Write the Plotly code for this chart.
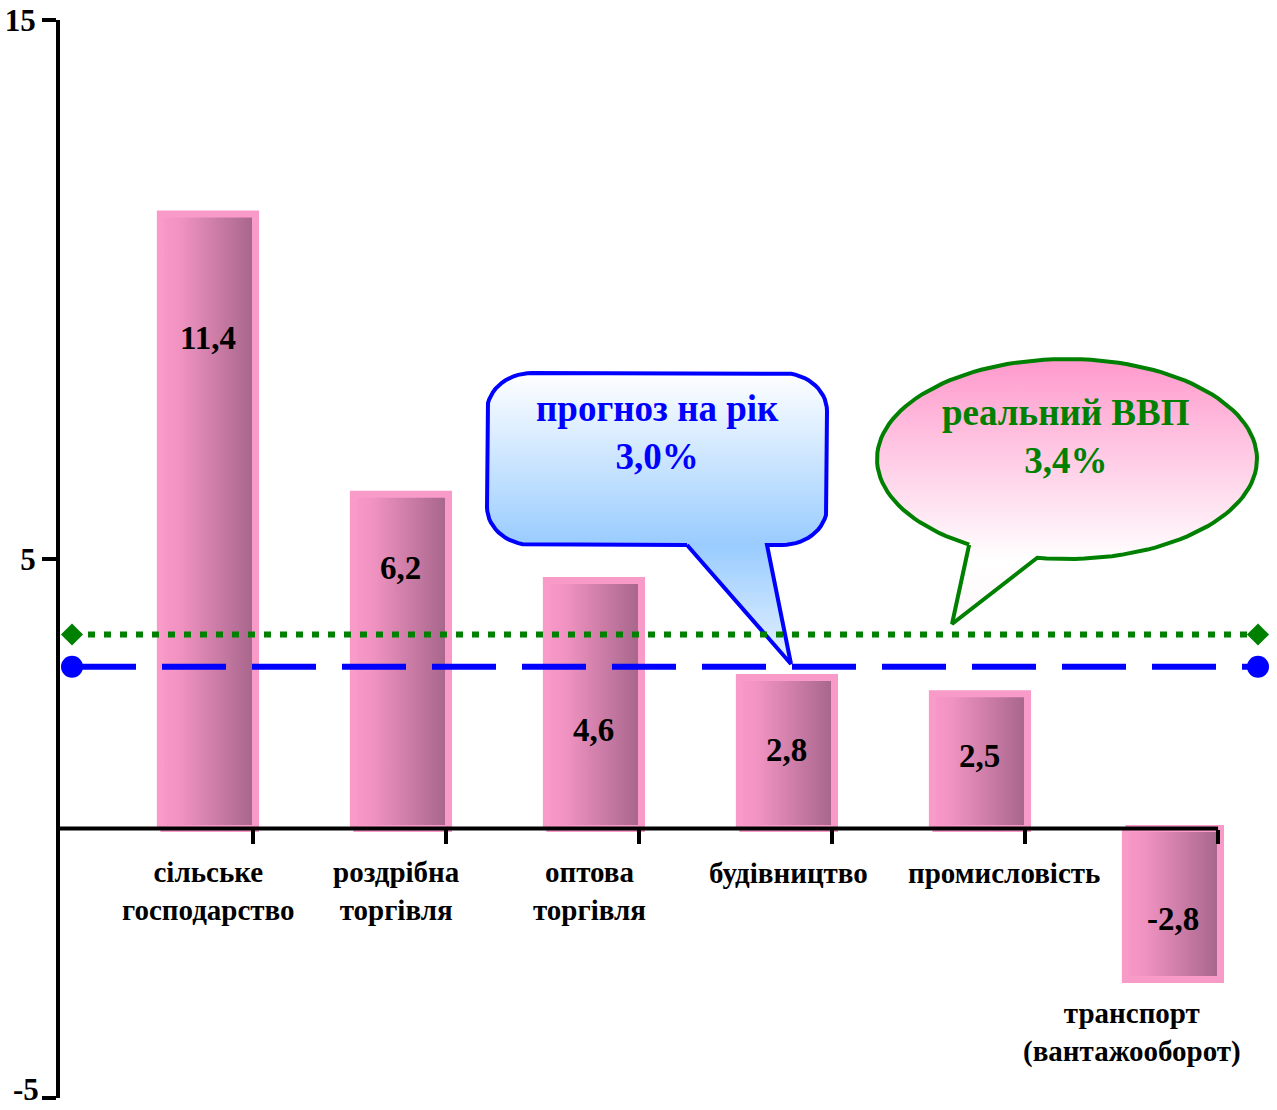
import numpy as np
import plotly.graph_objects as go

# data
categories = ["сільське<br>господарство", "роздрібна<br>торгівля", "оптова<br>торгівля",
              "будівництво", "промисловість", "транспорт<br>(вантажооборот)"]
values = [11.4, 6.2, 4.6, 2.8, 2.5, -2.8]
value_text = ["11,4", "6,2", "4,6", "2,8", "2,5", "-2,8"]
forecast = 3.0
real_gdp = 3.6          # dotted line is drawn a little above its label value
forecast_text = "прогноз на рік<br>3,0%"
real_text = "реальний ВВП<br>3,4%"
y_ticks = [-5, 5, 15]
y_tick_text = ["-5", "5", "15"]

# where the labels sit (layout only)
value_label_y = [9.1, 4.83, 1.83, 1.46, 1.35, -1.68]
cat_label_x = [0.767, 1.741, 2.741, 3.772, 4.891, 5.554]
cat_label_y = [-1.16, -1.16, -1.16, -0.83, -0.83, -3.78]

W, H = 1277, 1110
L, T, R, B = 60, 20, 11, 12
PX = 193.0
PY = (H - T - B) / 20.0

def dx(p):
    return (p - L) / PX

def dy(p):
    return 15 - (p - T) / PY

FONT = "Liberation Serif, Times New Roman, serif"
TICKFONT = dict(family=FONT, size=31, color="black", weight="bold")

fig = go.Figure()

# bars with a horizontal gradient
for i, v in enumerate(values):
    x0, x1 = i + 0.52, i + 1.013
    fig.add_trace(go.Scatter(
        x=[x0, x0, x1, x1, x0], y=[0, v, v, 0, 0], mode="lines", fill="toself",
        line=dict(color="#F99BC9", width=7),
        fillgradient=dict(type="horizontal", start=x0, stop=x1,
                          colorscale=[[0, "#F898C8"], [0.2, "#F193C2"], [1, "#A5658A"]]),
        hoverinfo="skip", showlegend=False))

# blue rounded callout
def arc(cx, cy, rx, ry, a0, a1, n=16):
    t = np.radians(np.linspace(a0, a1, n))
    return list(cx + rx * np.cos(t)), list(cy + ry * np.sin(t))

bx0, bx1, by0, by1, rx, ry = 487, 827, 373, 545, 45, 38
xs, ys = [687], [by1]
for cx, cy, a0, a1 in [(bx0 + rx, by1 - ry, 90, 180), (bx0 + rx, by0 + ry, 180, 270),
                       (bx1 - rx, by0 + ry, 270, 360), (bx1 - rx, by1 - ry, 0, 90)]:
    ax, ay = arc(cx, cy, rx, ry, a0, a1)
    xs += ax
    ys += ay
xs += [767, 791, 687]
ys += [by1, 664, by1]
fig.add_trace(go.Scatter(
    x=[dx(p) for p in xs], y=[dy(p) for p in ys], mode="lines", fill="toself",
    line=dict(color="#0000FF", width=4),
    fillgradient=dict(type="vertical", start=dy(664), stop=dy(by0),
                      colorscale=[[0, "#E6F1FF"], [0.41, "#99CCFF"], [1, "#FFFFFF"]]),
    hoverinfo="skip", showlegend=False))

# green oval callout
ex, ey = arc(1067, 459, 190, 100, 121, 459, 120)
ex += [952, ex[0]]
ey += [624, ey[0]]
fig.add_trace(go.Scatter(
    x=[dx(p) for p in ex], y=[dy(p) for p in ey], mode="lines", fill="toself",
    line=dict(color="#008000", width=4),
    fillgradient=dict(type="vertical", start=dy(624), stop=dy(359),
                      colorscale=[[0, "#FFF6FA"], [0.24, "#FFFFFF"], [1, "#FF99CC"]]),
    hoverinfo="skip", showlegend=False))

# reference lines
lx = [dx(72), dx(1258)]
fig.add_trace(go.Scatter(
    x=lx, y=[real_gdp, real_gdp], mode="lines+markers", cliponaxis=False,
    line=dict(color="#008000", width=6, dash="7px,9px"),
    marker=dict(symbol="diamond", size=17, color="#008000"),
    hoverinfo="skip", showlegend=False))
fig.add_trace(go.Scatter(
    x=lx, y=[forecast, forecast], mode="lines+markers", cliponaxis=False,
    line=dict(color="#0000FF", width=6, dash="64px,26px"),
    marker=dict(symbol="circle", size=22, color="#0000FF"),
    hoverinfo="skip", showlegend=False))

# x axis line at zero
fig.add_shape(type="line", xref="x", yref="y", x0=0, x1=6, y0=0, y1=0,
              line=dict(color="black", width=4), layer="above")

ann = []
for i, t in enumerate(value_text):
    ann.append(dict(x=i + 0.766, y=value_label_y[i], text=t, showarrow=False,
                    font=dict(family=FONT, size=33, color="black", weight="bold")))
for i, c in enumerate(categories):
    ann.append(dict(x=cat_label_x[i], y=cat_label_y[i], text=c, showarrow=False,
                    font=dict(family=FONT, size=29, color="black", weight="bold")))
ann.append(dict(x=dx(657), y=dy(432), text=forecast_text, showarrow=False,
                font=dict(family=FONT, size=37, color="#0000FF", weight="bold")))
ann.append(dict(x=dx(1066), y=dy(436), text=real_text, showarrow=False,
                font=dict(family=FONT, size=37, color="#008000", weight="bold")))
# lowest tick label, lifted a little so it stays inside the page
ann.append(dict(xref="paper", yref="paper", x=0, y=0, xanchor="right", yanchor="bottom",
                xshift=-19, yshift=-11, text=y_tick_text[0], showarrow=False, font=TICKFONT))

fig.update_layout(
    width=W, height=H, margin=dict(l=L, r=R, t=T, b=B, autoexpand=False),
    plot_bgcolor="white", paper_bgcolor="white", annotations=ann,
    xaxis=dict(range=[0, (W - L - R) / PX], showgrid=False, zeroline=False, showline=False,
               tickvals=[1, 2, 3, 4, 5, 6], ticks="outside", ticklen=14, tickwidth=4,
               tickcolor="black", showticklabels=False, anchor="free", position=0.25),
    yaxis=dict(range=[-5, 15], showgrid=False, zeroline=False, showline=True,
               linecolor="black", linewidth=4, tickvals=y_ticks,
               ticktext=[""] + y_tick_text[1:], ticks="outside",
               ticklen=14, tickwidth=4, tickcolor="black", tickfont=TICKFONT),
)

fig.write_html("out.html", config={"displayModeBar": False},
               post_script="document.body.style.margin='0';document.body.style.overflow='hidden';")
